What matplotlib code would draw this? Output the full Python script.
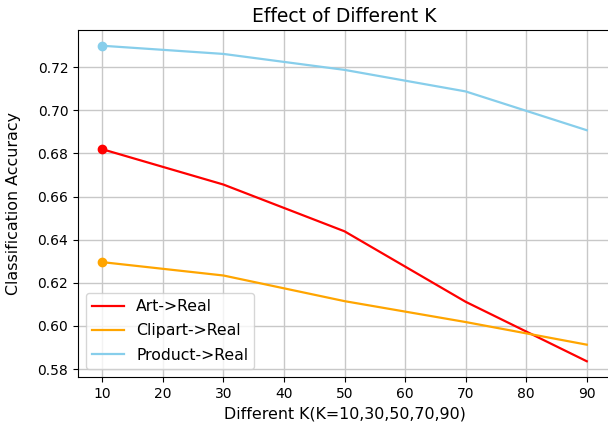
import matplotlib
matplotlib.use("Agg")
import matplotlib.pyplot as plt

k_values = [10, 30, 50, 70, 90]
art_real = [0.682, 0.6656, 0.6439, 0.6112, 0.5836]
clipart_real = [0.6296, 0.6234, 0.6115, 0.6018, 0.5913]
product_real = [0.7300, 0.7262, 0.7188, 0.7088, 0.6908]

fig = plt.figure(figsize=(6.08, 4.29), dpi=100)
ax = fig.add_axes([78 / 608, 52 / 429, 533 / 608, 347 / 429])

series = [
    (art_real, "red", "Art->Real"),
    (clipart_real, "orange", "Clipart->Real"),
    (product_real, "skyblue", "Product->Real"),
]
for vals, col, name in series:
    ax.plot(k_values, vals, color=col, label=name, linewidth=1.6)
    # only the first point gets a dot
    ax.scatter(k_values[:1], vals[:1], color=col, s=36, zorder=3)

ax.set_xlim(6, 94)
ax.set_ylim(0.5763, 0.7373)
ax.set_xticks([10, 20, 30, 40, 50, 60, 70, 80, 90])
ax.set_yticks([0.58, 0.60, 0.62, 0.64, 0.66, 0.68, 0.70, 0.72])
ax.tick_params(labelsize=10)
ax.grid(True, color="#c8c8c8", linewidth=1)
ax.set_axisbelow(True)
ax.set_title("Effect of Different K", fontsize=13.5)
ax.set_xlabel("Different K(K=10,30,50,70,90)", fontsize=11.4, labelpad=4)
ax.set_ylabel("Classification Accuracy", fontsize=11.4, labelpad=12)
ax.legend(loc="lower left", fontsize=11.3, labelspacing=0.6)

fig.savefig("out.png", dpi=100)
